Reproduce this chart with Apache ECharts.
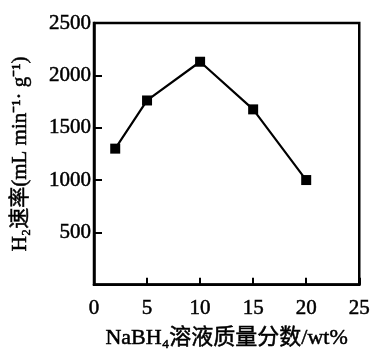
<!DOCTYPE html>
<html><head><meta charset="utf-8">
<script src="https://cdn.jsdelivr.net/npm/echarts@6/dist/echarts.min.js"></script>
<style>html,body{margin:0;padding:0;background:#fff}#c{width:373px;height:354px}</style>
</head><body><div id="c"></div>
<script>
const xValues = [2, 5, 10, 15, 20];
const rateValues = [1300, 1760, 2130, 1675, 1000];
const xTicks = [0, 5, 10, 15, 20, 25];
const yTicks = [500, 1000, 1500, 2000, 2500];
const xTitle = 'NaBH₄溶液质量分数/wt%';
const yTitle = 'H₂速率(mL min⁻¹· g⁻¹)';

const font = '"Liberation Serif","Noto Sans CJK SC",serif';
const heavy = {textBorderColor: '#000', textBorderWidth: 0.5};
const chart = echarts.init(document.getElementById('c'));
chart.setOption({
  animation: false,
  backgroundColor: '#fff',
  grid: {left: 94, right: 12, top: 23, bottom: 66, show: true, borderColor: '#000', borderWidth: 2.5, backgroundColor: 'transparent'},
  xAxis: {
    type: 'value', min: 0, max: 25, interval: 5,
    name: xTitle, nameLocation: 'middle', nameGap: 42,
    nameTextStyle: Object.assign({fontFamily: font, fontSize: 22, color: '#000'}, heavy),
    axisLine: {show: true, lineStyle: {color: '#000', width: 2.5}},
    axisTick: {show: true, inside: true, length: 7, lineStyle: {color: '#000', width: 2}},
    axisLabel: Object.assign({fontFamily: font, fontSize: 21, color: '#000', margin: 13,
      formatter: v => xTicks.includes(v) ? String(v) : ''}, heavy),
    splitLine: {show: false}
  },
  yAxis: {
    type: 'value', min: 0, max: 2500, interval: 500,
    name: yTitle, nameLocation: 'middle', nameGap: 63, nameRotate: 90,
    nameTextStyle: Object.assign({fontFamily: font, fontSize: 21, color: '#000'}, heavy),
    axisLine: {show: true, lineStyle: {color: '#000', width: 2.5}},
    axisTick: {show: true, inside: true, length: 8, lineStyle: {color: '#000', width: 2}},
    axisLabel: Object.assign({fontFamily: font, fontSize: 21, color: '#000', margin: 3,
      formatter: v => yTicks.includes(v) ? String(v) : ''}, heavy),
    splitLine: {show: false}
  },
  series: [{
    type: 'line',
    data: xValues.map((x, i) => [x, rateValues[i]]),
    symbol: 'rect', symbolSize: 10,
    lineStyle: {color: '#000', width: 2.2},
    itemStyle: {color: '#000'}
  }]
});
</script></body></html>
